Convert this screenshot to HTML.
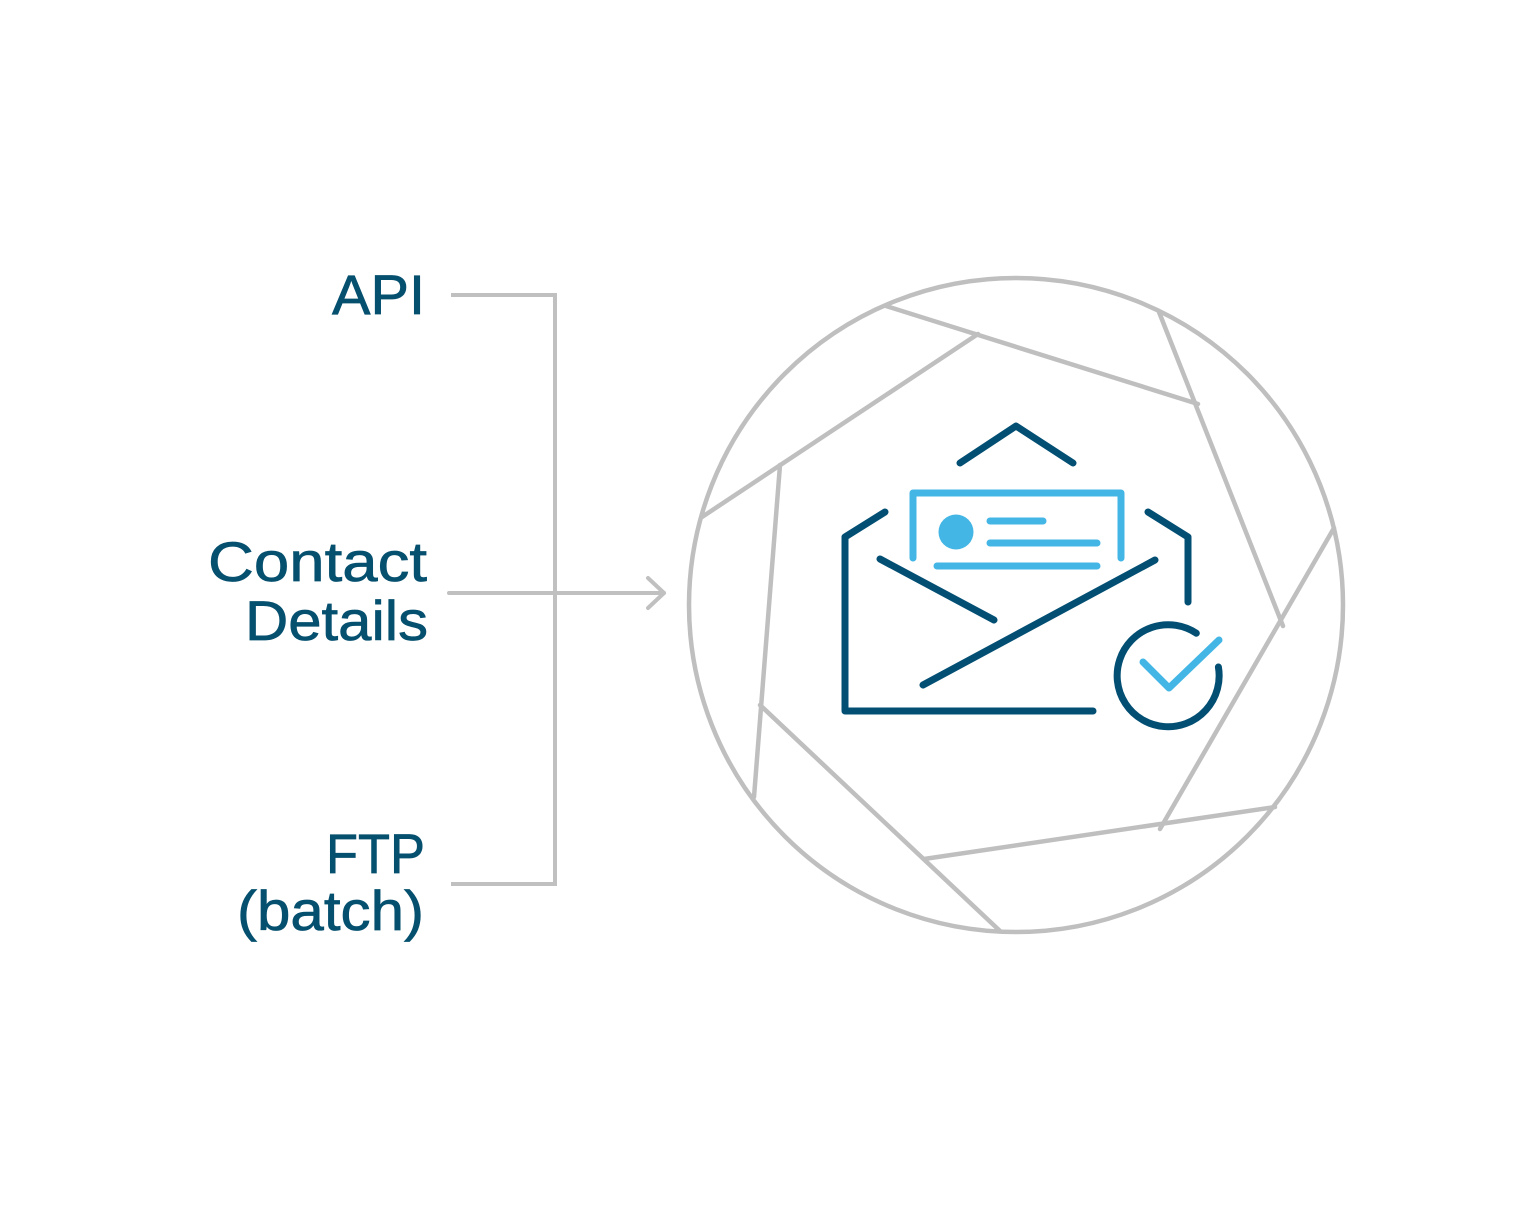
<!DOCTYPE html>
<html>
<head>
<meta charset="utf-8">
<style>
  html, body { margin: 0; padding: 0; background: #ffffff; }
  body { width: 1536px; height: 1211px; overflow: hidden; }
  svg { display: block; }
  .t { font-family: "Liberation Sans", sans-serif; font-size: 56px; fill: #06506f; stroke: #06506f; stroke-width: 0.7px; }
</style>
</head>
<body>
<svg width="1536" height="1211" viewBox="0 0 1536 1211" xmlns="http://www.w3.org/2000/svg">
  <rect width="1536" height="1211" fill="#ffffff"/>

  <!-- Labels -->
  <text class="t" x="332" y="314" textLength="93" lengthAdjust="spacingAndGlyphs">API</text>
  <text class="t" x="208" y="581" textLength="219" lengthAdjust="spacingAndGlyphs">Contact</text>
  <text class="t" x="245" y="640" textLength="183" lengthAdjust="spacingAndGlyphs">Details</text>
  <text class="t" x="326" y="873" textLength="99" lengthAdjust="spacingAndGlyphs">FTP</text>
  <text class="t" x="237" y="930" textLength="187" lengthAdjust="spacingAndGlyphs">(batch)</text>

  <!-- Connectors -->
  <g fill="none" stroke="#c0c0c0" stroke-width="4">
    <polyline points="451,295 555,295 555,884 451,884" stroke-linejoin="miter"/>
    <line x1="449" y1="593" x2="664" y2="593" stroke-linecap="round"/>
    <polyline points="648,578 664,593 648,608" stroke-linecap="round" stroke-linejoin="round"/>
  </g>

  <!-- Aperture circle -->
  <g fill="none" stroke="#bfbfbf" stroke-width="4.5" stroke-linecap="round">
    <circle cx="1016" cy="605" r="327"/>
    <line x1="886" y1="306" x2="1198" y2="404"/>
    <line x1="1159" y1="312" x2="1283" y2="626"/>
    <line x1="1334" y1="528" x2="1160" y2="829"/>
    <line x1="1275" y1="807" x2="924" y2="859"/>
    <line x1="1000" y1="931" x2="760" y2="705"/>
    <line x1="754" y1="797" x2="780" y2="465"/>
    <line x1="702" y1="517" x2="978" y2="334"/>
  </g>

  <!-- Envelope (dark blue) -->
  <g fill="none" stroke="#034f74" stroke-width="7" stroke-linecap="round" stroke-linejoin="round">
    <polyline points="960,463 1016,426 1073,463"/>
    <polyline points="885,512 845,537 845,711 1093,711"/>
    <polyline points="1148,512 1188,537 1188,602"/>
    <line x1="880" y1="559" x2="994" y2="620"/>
    <line x1="1155" y1="560" x2="923" y2="685"/>
    <path d="M1218.4,667 A51 51 0 1 1 1196.3,633.2"/>
  </g>

  <!-- Letter (light blue) -->
  <g fill="none" stroke="#43b6e6" stroke-width="7" stroke-linecap="round" stroke-linejoin="round">
    <polyline points="913,558 913,493 1121,493 1121,558"/>
    <line x1="990" y1="521" x2="1043" y2="521"/>
    <line x1="990" y1="543" x2="1097" y2="543"/>
    <line x1="937" y1="566" x2="1097" y2="566"/>
    <polyline points="1143,662 1169,688 1219,640"/>
  </g>
  <circle cx="956" cy="532" r="17.5" fill="#43b6e6"/>
</svg>
</body>
</html>
